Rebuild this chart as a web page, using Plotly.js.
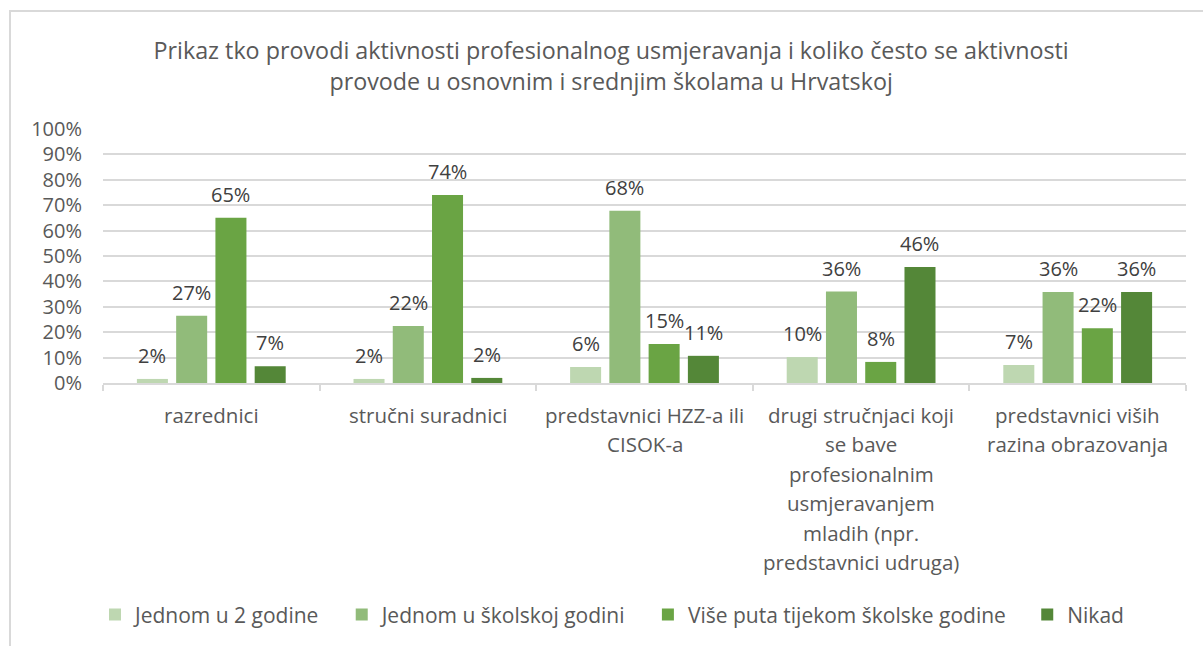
<!DOCTYPE html>
<html>
<head>
<meta charset="utf-8">
<script src="https://cdn.plot.ly/plotly-3.0.1.min.js"></script>
<style>
  body { margin: 0; background: #fff; }
  #frame {
    position: absolute; left: 9px; top: 10px; width: 1194px; height: 636px;
    border-top: 2px solid #d9d9d9; border-left: 2px solid #d9d9d9;
  }
  #chart { position: absolute; left: 0; top: 0; width: 1203px; height: 646px; }
</style>
</head>
<body>
<div id="frame"></div>
<div id="chart"></div>
<script>
// categories (multi-line labels, wrapped like the original)
var categories = [
  "razrednici",
  "stručni suradnici",
  "predstavnici HZZ-a ili<br>CISOK-a",
  "drugi stručnjaci koji<br>se bave<br>profesionalnim<br>usmjeravanjem<br>mladih (npr.<br>predstavnici udruga)",
  "predstavnici viših<br>razina obrazovanja"
];

var seriesNames = [
  "Jednom u 2 godine",
  "Jednom u školskoj godini",
  "Više puta tijekom školske godine",
  "Nikad"
];

// values in percent
var jednomU2 = [1.6, 1.6, 6.3, 10.2, 7.1];
var jednomUGodini = [26.5, 22.4, 67.8, 36.0, 35.8];
var viseputa = [65.1, 74.0, 15.4, 8.3, 21.6];
var nikad = [6.6, 2.0, 10.7, 45.7, 35.8];

// data labels as printed on the chart
var lblJednomU2 = ["2%", "2%", "6%", "10%", "7%"];
var lblJednomUGodini = ["27%", "22%", "68%", "36%", "36%"];
var lblVisePuta = ["65%", "74%", "15%", "8%", "22%"];
var lblNikad = ["7%", "2%", "11%", "46%", "36%"];

var colors = ["#bed7b1", "#91bb7a", "#6aa444", "#548738"];
var values = [jednomU2, jednomUGodini, viseputa, nikad];
var labels = [lblJednomU2, lblJednomUGodini, lblVisePuta, lblNikad];

var W = 1203, H = 646;
var margin = { l: 103, r: 17, t: 129, b: 262 };
var bargap = 0.275;
// width of one bar slot in px, used to put the labels over their bar
var slot = (W - margin.l - margin.r) / categories.length * (1 - bargap) / values.length;
var catLineGap = 29.4; // Excel wraps axis labels with looser leading than plotly

var traces = [];
var annotations = [];
for (var i = 0; i < values.length; i++) {
  var pad = i < values.length - 1 ? "\u00a0\u00a0\u00a0" : "";
  traces.push({
    type: "bar",
    name: seriesNames[i] + pad,
    x: categories,
    y: values[i],
    marker: { color: colors[i] },
    hoverinfo: "name+y"
  });
  for (var j = 0; j < categories.length; j++) {
    annotations.push({
      x: categories[j],
      y: values[i][j],
      xref: "x",
      yref: "y",
      text: labels[i][j],
      showarrow: false,
      xanchor: "center",
      yanchor: "bottom",
      xshift: (i - (values.length - 1) / 2) * slot,
      yshift: 8,
      font: { family: "Open Sans, sans-serif", size: 20, color: "#404040" }
    });
  }
}

// category labels, one annotation per wrapped line
categories.forEach(function (cat) {
  cat.split("<br>").forEach(function (line, k) {
    annotations.push({
      x: cat,
      y: 0,
      xref: "x",
      yref: "paper",
      text: line,
      showarrow: false,
      xanchor: "center",
      yanchor: "top",
      yshift: -16 - k * catLineGap,
      font: { family: "Open Sans, sans-serif", size: 20.5, color: "#595959" }
    });
  });
});

var layout = {
  width: W,
  height: H,
  margin: margin,
  paper_bgcolor: "rgba(0,0,0,0)",
  plot_bgcolor: "rgba(0,0,0,0)",
  font: { family: "Open Sans, sans-serif", color: "#595959" },
  title: {
    text: "Prikaz tko provodi aktivnosti profesionalnog usmjeravanja i koliko često se aktivnosti<br>provode u osnovnim i srednjim školama u Hrvatskoj",
    font: { size: 23.3, color: "#595959" },
    x: 0.508,
    xanchor: "center",
    y: 0.908,
    yanchor: "middle"
  },
  barmode: "group",
  bargap: bargap,
  bargroupgap: 0.21,
  showlegend: true,
  legend: {
    orientation: "h",
    x: 0.47,
    xanchor: "center",
    y: -0.905,
    yanchor: "middle",
    font: { size: 21, color: "#595959" },
    itemwidth: 30,
    traceorder: "normal"
  },
  annotations: annotations,
  xaxis: {
    type: "category",
    showline: true,
    linecolor: "#d9d9d9",
    linewidth: 2,
    ticks: "outside",
    tickson: "boundaries",
    tickcolor: "#d9d9d9",
    tickwidth: 2,
    ticklen: 6,
    showticklabels: false,
    showgrid: false
  },
  yaxis: {
    range: [0, 100],
    dtick: 10,
    ticksuffix: "%",
    showline: false,
    zeroline: false,
    gridcolor: "#d9d9d9",
    gridwidth: 2,
    tickfont: { size: 20, color: "#595959" },
    ticklabelstandoff: 20,
    fixedrange: true
  }
};

Plotly.newPlot("chart", traces, layout, { displayModeBar: false });
</script>
</body>
</html>
